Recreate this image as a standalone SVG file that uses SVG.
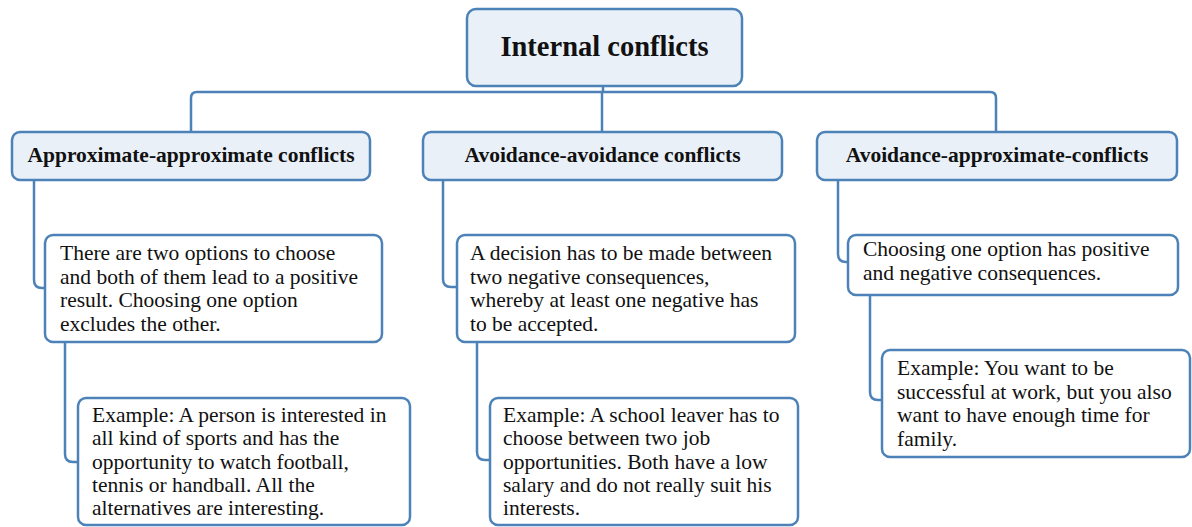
<svg xmlns="http://www.w3.org/2000/svg" width="1192" height="527" viewBox="0 0 1192 527">
<style>
.box{stroke:#4d82b8;stroke-width:2.5}
.hdr{fill:#e9f0f8}
.note{fill:#ffffff}
text{font-family:'Liberation Serif','Times New Roman',serif;fill:#111}
.title{font-weight:bold;font-size:21.5px}
.body{font-size:21.5px}
.conn{fill:none;stroke:#4d82b8;stroke-width:2.5}
</style>
<rect width="1192" height="527" fill="#ffffff"/>
<g id="connectors">
<path class="conn" d="M603,86 V92"/>
<path class="conn" d="M191,131 V98 Q191,92 197,92 H990 Q996,92 996,98 V131"/>
<path class="conn" d="M602,92 V131"/>
<path class="conn" d="M34,180 V280 Q34,288 42,288 H46"/>
<path class="conn" d="M65,342 V454 Q65,462 73,462 H79"/>
<path class="conn" d="M443,180 V279 Q443,287 451,287 H458"/>
<path class="conn" d="M477,342 V452 Q477,460 485,460 H491"/>
<path class="conn" d="M838,180 V254 Q838,262 846,262 H849"/>
<path class="conn" d="M870,295 V392 Q870,400 878,400 H883"/>
</g>
<g id="root">
<rect class="box hdr" x="467" y="9" width="275" height="77" rx="9"/>
<text x="604.5" y="56" text-anchor="middle" font-weight="bold" font-size="28.5">Internal conflicts</text>
</g>
<g id="approach-approach">
<rect class="box hdr" x="12" y="132" width="358" height="48" rx="8"/>
<text class="title" x="191" y="162" text-anchor="middle">Approximate-approximate conflicts</text>
</g>
<g id="avoidance-avoidance">
<rect class="box hdr" x="423" y="132" width="359" height="48" rx="8"/>
<text class="title" x="602.5" y="162" text-anchor="middle">Avoidance-avoidance conflicts</text>
</g>
<g id="avoidance-approach">
<rect class="box hdr" x="817" y="132" width="360" height="48" rx="8"/>
<text class="title" x="997" y="162" text-anchor="middle">Avoidance-approximate-conflicts</text>
</g>
<g id="aa-desc">
<rect class="box note" x="45" y="235" width="337" height="107" rx="8"/>
<text class="body" x="60" y="260">There are two options to choose</text>
<text class="body" x="60" y="283.5">and both of them lead to a positive</text>
<text class="body" x="60" y="307">result. Choosing one option</text>
<text class="body" x="60" y="330.5">excludes the other.</text>
</g>
<g id="aa-example">
<rect class="box note" x="78" y="398" width="332" height="127" rx="8"/>
<text class="body" x="92" y="422">Example: A person is interested in</text>
<text class="body" x="92" y="445.3">all kind of sports and has the</text>
<text class="body" x="92" y="468.6">opportunity to watch football,</text>
<text class="body" x="92" y="491.9">tennis or handball. All the</text>
<text class="body" x="92" y="515.2">alternatives are interesting.</text>
</g>
<g id="vv-desc">
<rect class="box note" x="457" y="235" width="338" height="107" rx="8"/>
<text class="body" x="470" y="260">A decision has to be made between</text>
<text class="body" x="470" y="283.5">two negative consequences,</text>
<text class="body" x="470" y="307">whereby at least one negative has</text>
<text class="body" x="470" y="330.5">to be accepted.</text>
</g>
<g id="vv-example">
<rect class="box note" x="490" y="398" width="308" height="127" rx="8"/>
<text class="body" x="503" y="422">Example: A school leaver has to</text>
<text class="body" x="503" y="445.3">choose between two job</text>
<text class="body" x="503" y="468.6">opportunities. Both have a low</text>
<text class="body" x="503" y="491.9">salary and do not really suit his</text>
<text class="body" x="503" y="515.2">interests.</text>
</g>
<g id="vp-desc">
<rect class="box note" x="848" y="235" width="330" height="60" rx="8"/>
<text class="body" x="863" y="256">Choosing one option has positive</text>
<text class="body" x="863" y="280">and negative consequences.</text>
</g>
<g id="vp-example">
<rect class="box note" x="882" y="350" width="308" height="107" rx="8"/>
<text class="body" x="897" y="375">Example: You want to be</text>
<text class="body" x="897" y="398.5">successful at work, but you also</text>
<text class="body" x="897" y="422">want to have enough time for</text>
<text class="body" x="897" y="445.5">family.</text>
</g>
</svg>
